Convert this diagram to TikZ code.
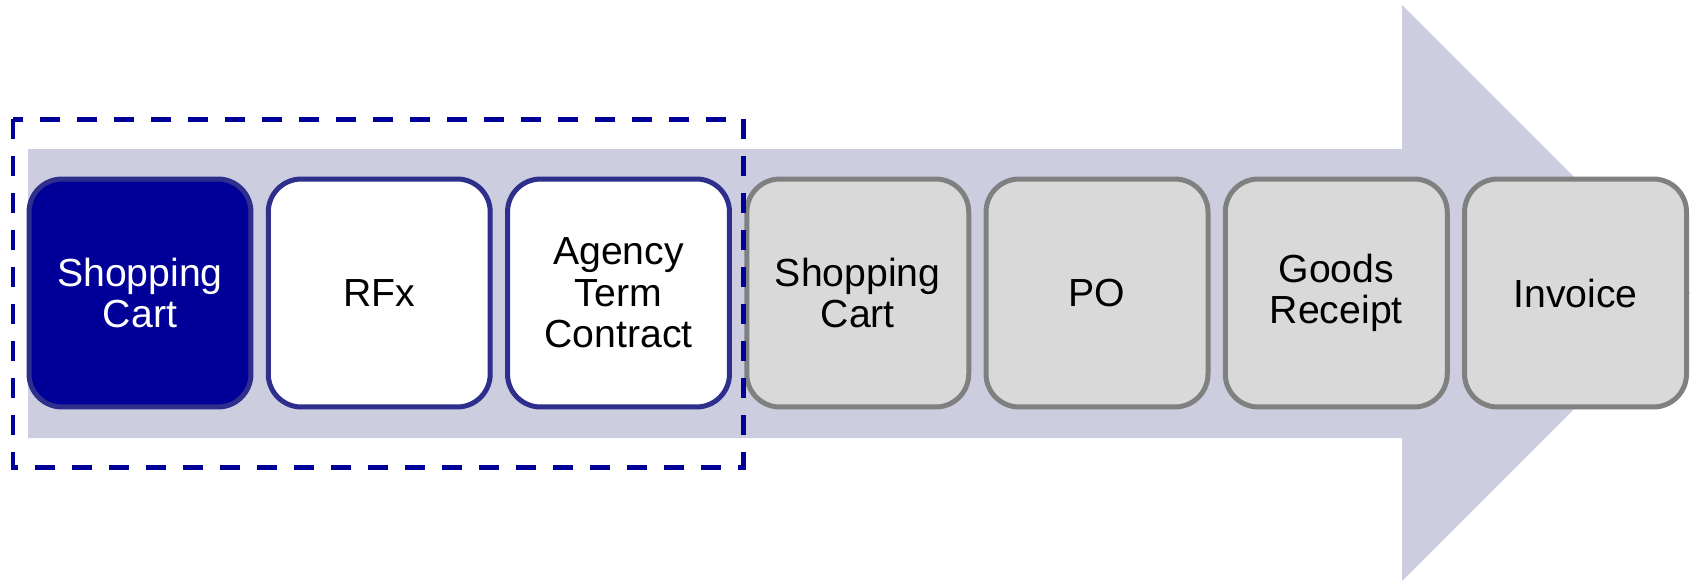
\documentclass[tikz,border=0pt]{standalone}
\usepackage{fontspec}
\setmainfont{Liberation Sans}
\usetikzlibrary{positioning}
\definecolor{arrowfill}{RGB}{205,205,224}
\definecolor{navy}{RGB}{0,0,153}
\definecolor{navyedge}{RGB}{46,46,140}
\definecolor{grayfill}{RGB}{217,217,217}
\definecolor{grayedge}{RGB}{128,128,128}

\begin{document}
\begin{tikzpicture}[
  x=0.02cm, y=-0.02cm,
  node distance=0.346cm,
  stage/.style={rectangle, rounded corners=0.66cm, line width=0.1cm,
    minimum width=4.44cm, minimum height=4.56cm, outer sep=0pt,
    align=center, font=\fontsize{22.3}{23.7}\selectfont},
  active/.style={stage, draw=navyedge, fill=navy, text=white},
  open/.style={stage, draw=navyedge, fill=white},
  later/.style={stage, draw=grayedge, fill=grayfill}
  ]
\useasboundingbox (0,0) rectangle (1692,582);
% big arrow behind the steps
\fill[arrowfill] (28,149) -- (1402,149) -- (1402,5) -- (1690,293)
  -- (1402,581) -- (1402,438) -- (28,438) -- cycle;
\node[active] (sc1) at (140,293) {Shopping\\Cart};
\node[open, right=of sc1] (rfx) {RFx};
\node[open, right=of rfx] (atc) {Agency\\Term\\Contract};
\node[later, right=of atc] (sc2) {Shopping\\Cart};
\node[later, right=of sc2] (po) {PO};
\node[later, right=of po] (gr) {Goods\\Receipt};
\node[later, right=of gr] (inv) {Invoice};
% dashed frame round the first three
\draw[navy, line width=0.1cm, dash pattern=on 0.4cm off 0.34cm]
  (13,119) rectangle (743,467);
\end{tikzpicture}
\end{document}
